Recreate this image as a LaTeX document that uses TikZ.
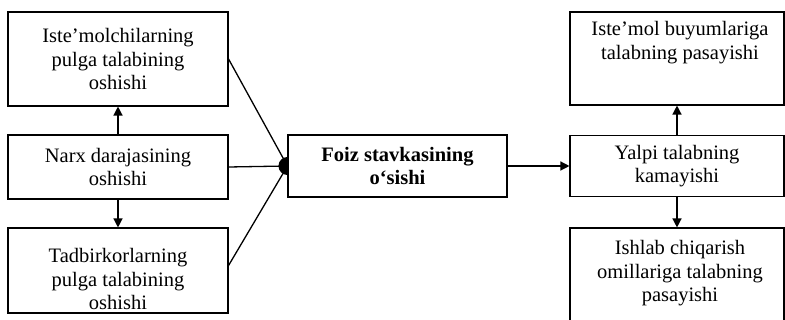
\documentclass[tikz,border=0pt]{standalone}
\usepackage{fontspec}
\setmainfont{Liberation Serif}
\usetikzlibrary{arrows.meta}
\begin{document}
\begin{tikzpicture}[x=1pt,y=-1pt,
  box/.style={draw,line width=1.1pt,rectangle,inner sep=0pt,align=center,font=\fontsize{20.5}{23.5}\selectfont},
  txt/.style={inner sep=0pt,align=center,font=\fontsize{20.5}{23.5}\selectfont},
  con/.style={line width=1.3pt},
  arr/.style={line width=1.3pt,-{Triangle[length=9pt,width=9pt]}}]
\useasboundingbox (0,0) rectangle (785,320);
\clip (0,0) rectangle (785,320);
% left column
\node[box,minimum width=220pt,minimum height=94pt] (b1) at (118,59) {Iste’molchilarning\\pulga talabining\\oshishi};
\node[box,minimum width=220pt,minimum height=64pt] (b2) at (118,167) {Narx darajasining\\oshishi};
\node[box,minimum width=220pt,minimum height=85pt] (b3) at (118,270.5) {};
\node[txt,anchor=north] (t3) at ([yshift=-21pt]b3.north) {Tadbirkorlarning\\pulga talabining\\oshishi};
% centre
\node[box,minimum width=219pt,minimum height=62pt,font=\bfseries\fontsize{20.5}{23.5}\selectfont] (c) at (397.5,166) {Foiz stavkasining\\o‘sishi};
% right column
\node[box,minimum width=214pt,minimum height=93pt] (r1) at (677,58.5) {};
\node[txt,anchor=north] (tr1) at ([xshift=3pt,yshift=-10pt]r1.north) {Iste’mol buyumlariga\\talabning pasayishi};
\node[box,minimum width=214pt,minimum height=61pt] (r2) at (677,166) {Yalpi talabning\\kamayishi};
\node[box,minimum width=214pt,minimum height=110pt] (r3) at (677,283) {};
\node[txt,anchor=north] (tr3) at ([xshift=3pt,yshift=-13pt]r3.north) {Ishlab chiqarish\\omillariga talabning\\pasayishi};
% junction
\coordinate (j) at (c.west);
\fill ([yshift=9pt]j) arc[start angle=90,end angle=270,radius=9pt] -- cycle;
\draw[con] (b1.east) -- (j);
\draw[con] (b2.east) -- (j);
\draw[con] ([yshift=5pt]b3.east) -- (j);
% arrows
\draw[arr] (b2.north) -- (b1.south);
\draw[arr] (b2.south) -- (b3.north);
\draw[arr] (c.east) -- (r2.west);
\draw[arr] (r2.north) -- (r1.south);
\draw[arr] (r2.south) -- (r3.north);
\end{tikzpicture}
\end{document}
